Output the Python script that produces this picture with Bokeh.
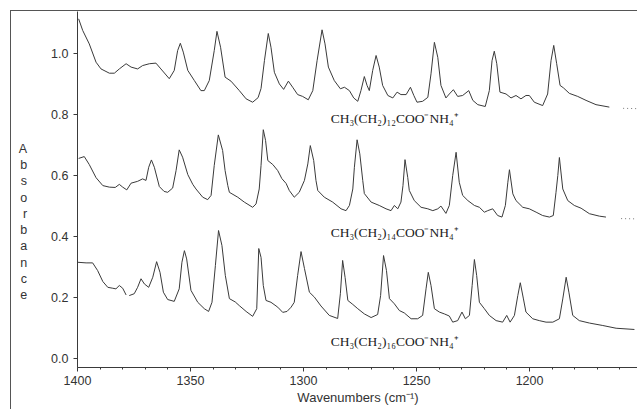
from bokeh.plotting import figure
from bokeh.models import Range1d, FixedTicker, PrintfTickFormatter, Label
from bokeh.embed import file_html
from bokeh.resources import INLINE

nan = float("nan")

# --- data (wavenumber in cm^-1, absorbance) ---
top_wn = [1399.5, 1397.7, 1394.8, 1391.8, 1389.6, 1385.9, 1383.7, 1381.5, 1378.5, 1376.3,
          1373.4, 1371.2, 1368.2, 1365.3, 1363.1, 1359.4, 1357.2, 1355.7, 1354.5, 1353.2,
          1351.2, 1348.3, 1345.4, 1343.9, 1341.7, 1339.5, 1338.3, 1336.7, 1334.7, 1332.1,
          1328.4, 1325.4, 1322.5, 1320.1, 1318.8, 1317.3, 1315.6, 1314.4, 1312.9, 1310.7,
          1308.8, 1306.7, 1304.8, 1302.6, 1300.4, 1297.9, 1295.9, 1294.0, 1291.8, 1290.5,
          1289.0, 1286.4, 1283.7, 1281.9, 1279.7, 1277.8, 1276.0, 1274.6, 1273.1, 1271.9,
          1270.9, 1269.4, 1267.9, 1266.5, 1265.0, 1262.7, 1260.5, 1258.6, 1256.9, 1254.6,
          1252.7, 1251.2, 1249.8, 1247.3, 1245.0, 1243.6, 1242.1, 1240.6, 1239.2, 1237.0,
          1235.5, 1233.7, 1231.8, 1229.6, 1226.9, 1225.1, 1222.9, 1219.6, 1217.8, 1216.6,
          1215.6, 1214.5, 1213.1, 1210.4, 1208.2, 1206.0, 1203.8, 1201.6, 1200.1, 1197.9,
          1194.2, 1192.0, 1190.5, 1189.3, 1188.0, 1186.5, 1185.0, 1182.4, 1178.7, 1175.0,
          1170.6, 1164.7]
top_abs = [1.113, 1.075, 1.031, 0.971, 0.949, 0.935, 0.935, 0.949, 0.966, 0.955,
           0.949, 0.960, 0.966, 0.968, 0.949, 0.917, 0.944, 1.009, 1.033, 1.004,
           0.944, 0.911, 0.878, 0.878, 0.911, 1.009, 1.072, 1.020, 0.922, 0.909,
           0.878, 0.851, 0.840, 0.855, 0.885, 0.976, 1.065, 1.020, 0.938, 0.900,
           0.882, 0.909, 0.889, 0.865, 0.859, 0.848, 0.878, 0.976, 1.077, 1.031,
           0.955, 0.911, 0.884, 0.889, 0.878, 0.854, 0.843, 0.878, 0.924, 0.895,
           0.878, 0.944, 0.993, 0.955, 0.895, 0.862, 0.854, 0.873, 0.865, 0.865,
           0.889, 0.862, 0.840, 0.843, 0.856, 0.933, 1.036, 0.987, 0.895, 0.854,
           0.867, 0.881, 0.859, 0.862, 0.878, 0.846, 0.832, 0.826, 0.878, 0.976,
           1.007, 0.966, 0.873, 0.867, 0.854, 0.862, 0.851, 0.862, 0.862, 0.840,
           0.829, 0.867, 0.976, 1.026, 0.966, 0.895, 0.887, 0.869, 0.859, 0.846,
           0.832, 0.824]
top_tail_wn = [1158.6, 1152.4]
top_tail_abs = [0.820, 0.819]

mid_wn = [1399.5, 1397.0, 1394.8, 1391.8, 1388.8, 1385.9, 1383.3, 1381.5, 1380.0, 1378.2,
          1376.3, 1373.4, 1371.2, 1369.7, 1368.5, 1367.3, 1366.0, 1363.8, 1361.7, 1360.1,
          1357.9, 1356.4, 1355.0, 1353.5, 1351.2, 1349.0, 1347.6, 1344.6, 1342.4, 1340.9,
          1339.5, 1337.7, 1335.8, 1334.7, 1333.5, 1332.8, 1329.1, 1326.2, 1322.5, 1321.0,
          1319.6, 1318.8, 1317.8, 1316.8, 1315.8, 1313.6, 1311.4, 1309.6, 1307.7, 1306.3,
          1304.1, 1301.9, 1299.6, 1298.1, 1297.0, 1295.5, 1294.5, 1293.7, 1290.8, 1287.1,
          1283.4, 1281.2, 1279.7, 1278.2, 1277.5, 1276.3, 1275.1, 1273.8, 1273.1, 1270.1,
          1266.5, 1263.5, 1261.3, 1259.8, 1258.3, 1256.9, 1256.0, 1255.1, 1253.9, 1253.2,
          1251.0, 1248.0, 1245.0, 1242.8, 1240.6, 1239.2, 1237.0, 1235.5, 1234.0, 1232.5,
          1231.1, 1229.6, 1227.3, 1224.4, 1222.2, 1220.0, 1218.5, 1216.3, 1214.1, 1212.2,
          1210.7, 1209.6, 1208.9, 1207.4, 1206.0, 1203.0, 1200.1, 1197.1, 1194.2, 1191.2,
          1189.5, 1188.3, 1187.5, 1186.8, 1185.3, 1183.1, 1180.2, 1177.2, 1173.5, 1169.1,
          1166.2]
mid_abs = [0.656, 0.662, 0.636, 0.593, 0.567, 0.562, 0.561, 0.571, 0.562, 0.553,
           0.575, 0.581, 0.589, 0.584, 0.627, 0.651, 0.627, 0.564, 0.548, 0.545,
           0.559, 0.616, 0.684, 0.660, 0.603, 0.571, 0.556, 0.529, 0.521, 0.535,
           0.633, 0.733, 0.682, 0.616, 0.567, 0.545, 0.529, 0.513, 0.496, 0.507,
           0.556, 0.633, 0.750, 0.715, 0.649, 0.636, 0.616, 0.590, 0.574, 0.551,
           0.529, 0.545, 0.584, 0.638, 0.698, 0.649, 0.584, 0.551, 0.529, 0.513,
           0.491, 0.485, 0.502, 0.556, 0.627, 0.717, 0.671, 0.584, 0.541, 0.513,
           0.502, 0.491, 0.485, 0.502, 0.491, 0.513, 0.567, 0.652, 0.594, 0.551,
           0.518, 0.496, 0.491, 0.485, 0.491, 0.500, 0.476, 0.502, 0.600, 0.676,
           0.578, 0.535, 0.518, 0.502, 0.496, 0.480, 0.485, 0.491, 0.469, 0.464,
           0.502, 0.578, 0.619, 0.540, 0.518, 0.496, 0.491, 0.480, 0.469, 0.464,
           0.469, 0.545, 0.600, 0.659, 0.556, 0.518, 0.502, 0.493, 0.475, 0.467,
           0.464]
mid_tail_wn = [1159.5, 1152.4]
mid_tail_abs = [0.459, 0.458]

bot_wn = [1399.9, 1396.2, 1393.3, 1391.1, 1388.8, 1386.6, 1384.4, 1383.0, 1381.5, 1380.0,
          1378.5, nan,
          1377.1, 1374.9, 1373.4, 1371.9, 1370.4, 1368.5, 1366.7, 1365.0, 1363.5,
          1362.0, 1360.1, 1357.2, 1355.0, 1353.8, 1352.7, 1351.7, 1349.8, 1346.8, 1343.9,
          1342.0, 1340.5, 1339.0, 1337.6, 1336.1, 1334.6, 1332.8, 1330.2, 1328.4, 1325.4,
          1322.5, 1320.7, 1319.8, 1318.8, 1317.8, 1316.6, 1314.4, 1311.4, 1309.2, 1307.3,
          1305.5, 1304.1, 1302.6, 1301.1, 1299.6, 1297.4, 1295.2, 1292.3, 1288.6, 1284.9,
          1283.7, 1282.7, 1281.6, 1280.4, 1278.2, 1276.0, 1273.1, 1270.1, 1267.2, 1265.9,
          1264.6, 1263.3, 1262.0, 1259.8, 1257.6, 1255.4, 1252.4, 1249.5, 1247.3, 1245.8,
          1244.8, 1243.6, 1242.1, 1239.9, 1237.7, 1235.5, 1234.0, 1231.8, 1229.9, 1228.4,
          1226.6, 1225.4, 1224.4, 1223.4, 1222.2, 1220.0, 1217.8, 1214.8, 1211.9, 1210.1,
          1208.6, 1206.7, 1205.2, 1204.1, 1202.7, 1201.6, 1198.6, 1195.7, 1192.7, 1189.7,
          1186.8, 1185.3, 1183.8, 1182.6, 1180.9, 1178.0, 1173.5, 1167.6, 1161.7, 1153.6]
bot_abs = [0.316, 0.314, 0.314, 0.289, 0.253, 0.234, 0.231, 0.229, 0.240, 0.231,
           0.209, nan,
           0.207, 0.213, 0.234, 0.262, 0.245, 0.234, 0.267, 0.318, 0.283,
           0.218, 0.194, 0.188, 0.229, 0.316, 0.354, 0.327, 0.224, 0.185, 0.164,
           0.155, 0.185, 0.305, 0.420, 0.371, 0.273, 0.197, 0.186, 0.174, 0.155,
           0.139, 0.164, 0.361, 0.332, 0.240, 0.191, 0.185, 0.169, 0.152, 0.155,
           0.169, 0.185, 0.273, 0.351, 0.296, 0.218, 0.202, 0.173, 0.142, 0.132,
           0.213, 0.322, 0.266, 0.191, 0.178, 0.164, 0.147, 0.135, 0.145, 0.207,
           0.338, 0.289, 0.197, 0.180, 0.158, 0.150, 0.131, 0.131, 0.142, 0.229,
           0.283, 0.240, 0.164, 0.153, 0.147, 0.140, 0.120, 0.125, 0.153, 0.131,
           0.142, 0.240, 0.325, 0.273, 0.185, 0.164, 0.142, 0.125, 0.120, 0.142,
           0.120, 0.142, 0.207, 0.249, 0.196, 0.153, 0.131, 0.125, 0.120, 0.120,
           0.131, 0.196, 0.267, 0.218, 0.142, 0.125, 0.117, 0.109, 0.100, 0.096]

labels = ["CH₃(CH₂)₁₂COO⁻NH₄⁺", "CH₃(CH₂)₁₄COO⁻NH₄⁺", "CH₃(CH₂)₁₆COO⁻NH₄⁺"]
label_y = [0.787, 0.413, 0.057]
label_x = 1288.0

x_ticks = [1400, 1350, 1300, 1250, 1200]
y_ticks = [0.0, 0.2, 0.4, 0.6, 0.8, 1.0]
y_title = "Absorbance"

# --- figure ---
INK = "#3a3a3a"
p = figure(width=627, height=399, output_backend="svg", toolbar_location=None,
           x_range=Range1d(1400, 1151.8), y_range=Range1d(-0.0285, 1.137),
           min_border_left=66, min_border_right=0, min_border_top=0, min_border_bottom=43)
p.styles = {"margin-left": "10px", "margin-top": "10px",
            "border-left": "1px solid #555", "border-top": "1px solid #555"}
p.outline_line_color = None
p.grid.visible = False
p.background_fill_color = "white"
p.border_fill_color = "white"

for xs, ys in [(top_wn, top_abs), (mid_wn, mid_abs), (bot_wn, bot_abs)]:
    p.line(xs, ys, line_color=INK, line_width=1)
for xs, ys in [(top_tail_wn, top_tail_abs), (mid_tail_wn, mid_tail_abs)]:
    p.line(xs, ys, line_color="#777777", line_width=1, line_dash="1 3")

# axes
xa = p.xaxis[0]
xa.ticker = FixedTicker(ticks=x_ticks, minor_ticks=list(range(1160, 1401, 10)))
xa.axis_label = "Wavenumbers (cm⁻¹)"
xa.axis_label_text_font = "Liberation Sans"
xa.axis_label_text_font_style = "normal"
xa.axis_label_text_font_size = "13px"
xa.axis_label_text_color = "#333333"
xa.axis_label_standoff = 2
xa.major_label_standoff = 4

ya = p.yaxis[0]
ya.ticker = FixedTicker(ticks=y_ticks)
ya.formatter = PrintfTickFormatter(format="%.1f")
ya.major_label_standoff = 5
# stacked letters, shifted down with leading blank lines as in the original
ya.axis_label = "\n" * 4 + "\n".join(y_title)
ya.axis_label_orientation = "horizontal"
ya.axis_label_text_font = "Liberation Sans"
ya.axis_label_text_font_style = "normal"
ya.axis_label_text_font_size = "12.5px"
ya.axis_label_text_line_height = 1.16
ya.axis_label_text_color = "#333333"
ya.axis_label_text_align = "center"
ya.axis_label_standoff = 21

for ax in (xa, ya):
    ax.axis_line_color = INK
    ax.major_tick_line_color = INK
    ax.minor_tick_line_color = INK
    ax.major_tick_out = 4
    ax.major_tick_in = 0
    ax.minor_tick_out = 2
    ax.minor_tick_in = 0
    ax.major_label_text_font = "Liberation Sans"
    ax.major_label_text_font_size = "12.5px"
    ax.major_label_text_color = "#333333"
ya.minor_tick_line_color = None

# series labels
for txt, ly in zip(labels, label_y):
    p.add_layout(Label(x=label_x, y=ly, text=txt, text_align="left",
                       text_baseline="alphabetic", text_font="Liberation Serif",
                       text_font_size="13.5px", text_color="#222222"))

open("out.html", "w").write(file_html(p, INLINE))
